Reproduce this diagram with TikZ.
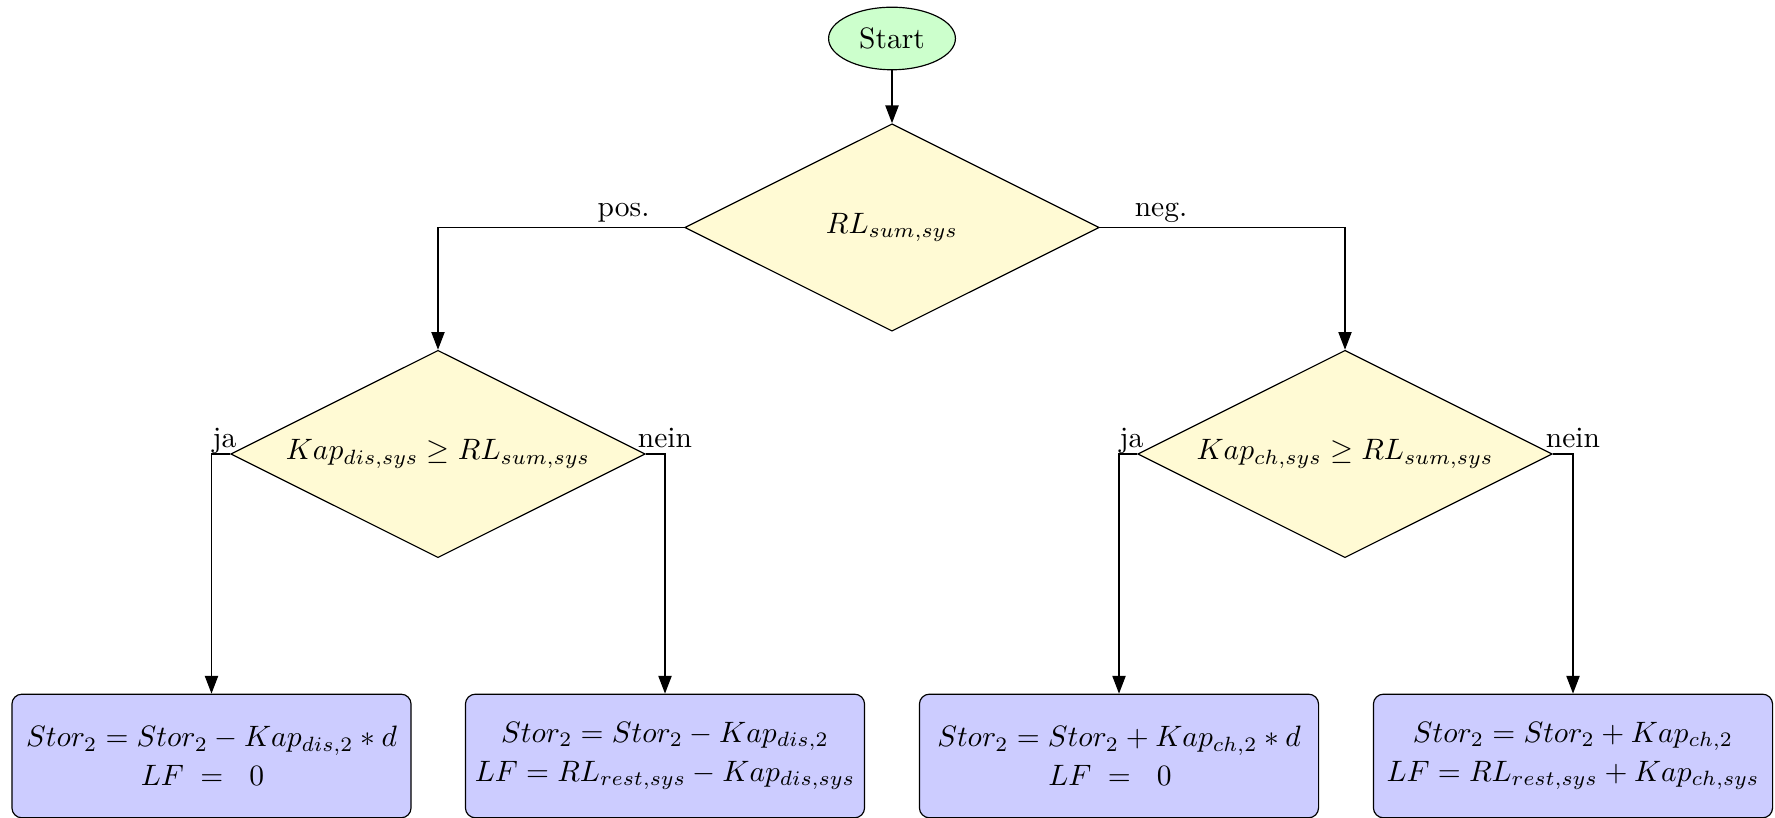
\documentclass[tikz,border=0pt]{standalone}
\usetikzlibrary{shapes.geometric,arrows.meta,calc}
\definecolor{startfill}{RGB}{204,255,204}
\definecolor{decfill}{RGB}{255,250,212}
\definecolor{boxfill}{RGB}{204,204,255}
\begin{document}
\begin{tikzpicture}[x=0.33898pt, y=-0.33898pt,
  startnode/.style={ellipse, draw, fill=startfill, minimum width=43pt, minimum height=21.2pt, inner sep=0pt},
  decision/.style={diamond, aspect=2, draw, fill=decfill, minimum width=140.5pt, minimum height=70.3pt, inner sep=0pt},
  action/.style={rectangle, rounded corners=3.4pt, draw, fill=boxfill, minimum width=135.3pt, minimum height=41.9pt, align=center, inner sep=2pt},
  arr/.style={-{Triangle[length=6pt,width=4.5pt]}},
  lbl/.style={inner sep=0pt}]
\useasboundingbox (0,0) rectangle (1775,818);

% nodes
\node[startnode] (start) at (892,38.5) {Start};
\node[decision] (top) at (892,227.5) {$RL_{sum,sys}$};
\node[decision] (left) at (438,454) {$Kap_{dis,sys} \geq RL_{sum,sys}$};
\node[decision] (right) at (1345,454) {$Kap_{ch,sys} \geq RL_{sum,sys}$};

\node[action] (b1) at (211.5,756) {$Stor_2 = Stor_2 - Kap_{dis,2} * d$\\[1.2pt] $LF\mkern5mu=\mkern11mu0\mkern11mu$};
\node[action] (b2) at (665,756) {$Stor_2 = Stor_2 - Kap_{dis,2}$\\[1.2pt] $LF = RL_{rest,sys} - Kap_{dis,sys}$};
\node[action] (b3) at (1119,756) {$Stor_2 = Stor_2 + Kap_{ch,2} * d$\\[1.2pt] $LF\mkern5mu=\mkern11mu0\mkern11mu$};
\node[action] (b4) at (1573,756) {$Stor_2 = Stor_2 + Kap_{ch,2}$\\[1.2pt] $LF = RL_{rest,sys} + Kap_{ch,sys}$};

% connectors
\draw[arr] (start) -- (top);
\draw[arr] (top.west) -| (left.north);
\draw[arr] (top.east) -| (right.north);
\draw[arr] (left.west) -| (b1.north);
\draw[arr] (left.east) -| (b2.north);
\draw[arr] (right.west) -| (b3.north);
\draw[arr] (right.east) -| (b4.north);

% branch labels
\node[lbl, anchor=base] (lpos) at (623.6,216.5) {pos.};
\node[lbl, anchor=base] (lneg) at (1161,216.5) {neg.};
\node[lbl, anchor=base west] (lja1) at (212,447.7) {ja};
\node[lbl, anchor=base] (lnein1) at (665,447.7) {nein};
\node[lbl, anchor=base west] (lja2) at (1119,447.7) {ja};
\node[lbl, anchor=base] (lnein2) at (1573,447.7) {nein};
\end{tikzpicture}
\end{document}
